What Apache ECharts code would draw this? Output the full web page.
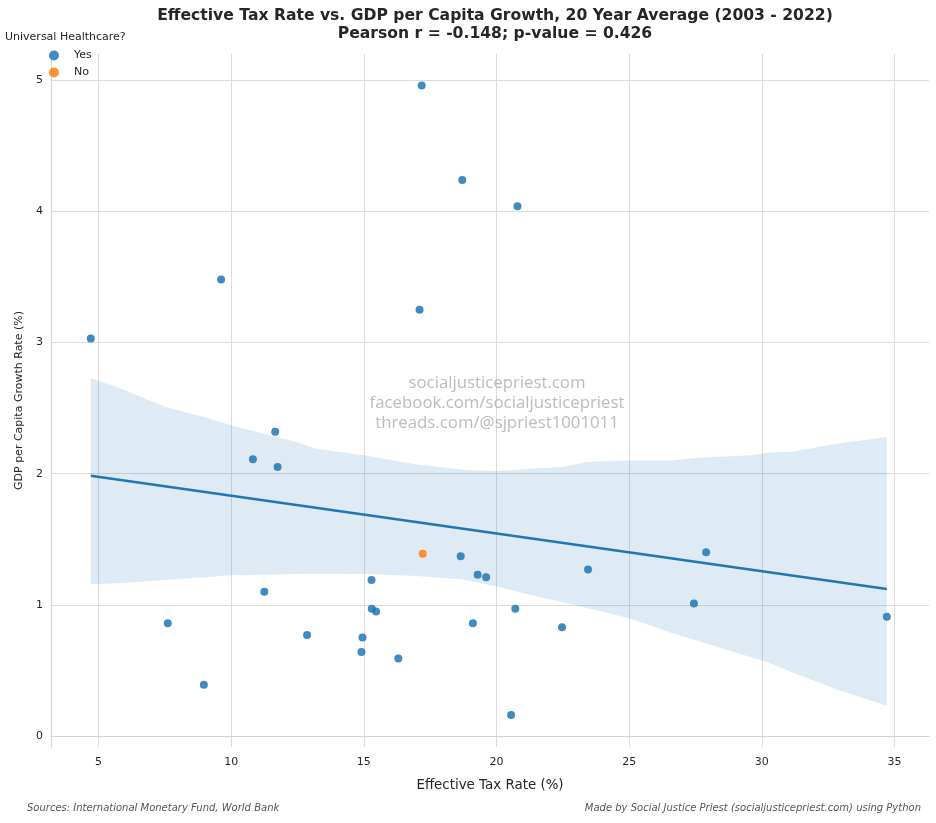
<!DOCTYPE html>
<html>
<head>
<meta charset="utf-8">
<script src="https://cdn.jsdelivr.net/npm/echarts@6/dist/echarts.min.js"></script>
<style>
html,body{margin:0;padding:0;background:#fff;}
#main{width:936px;height:823px;}
</style>
</head>
<body>
<div id="main"></div>
<script>
// data
var yesTax = [4.71, 9.62, 17.10, 18.71, 20.79, 11.66, 10.82, 11.75, 17.18, 18.65,
              19.29, 19.61, 15.29, 11.25, 15.30, 15.46, 20.71, 7.61, 19.11, 12.86,
              14.95, 14.91, 16.30, 8.97, 20.55, 23.45, 27.90, 27.44, 22.47, 34.71];
var yesGrowth = [3.03, 3.48, 3.25, 4.24, 4.04, 2.32, 2.11, 2.05, 4.96, 1.37,
                 1.23, 1.21, 1.19, 1.10, 0.97, 0.95, 0.97, 0.86, 0.86, 0.77,
                 0.75, 0.64, 0.59, 0.39, 0.16, 1.27, 1.40, 1.01, 0.83, 0.91];
var noTax = [17.22];
var noGrowth = [1.39];

// fitted line end points
var fitX = [4.71, 34.71];
var fitY = [1.984, 1.12];

// confidence band edges
var bandX =     [4.71, 5.7, 7.5, 9, 10, 12.5, 13.2, 15, 17, 18.7, 20, 21.4, 22.5, 23.4, 25, 26.6, 27.5, 29.6, 30.2, 31.2, 32.9, 34.71];
var bandUpper = [2.73, 2.66, 2.51, 2.43, 2.37, 2.24, 2.19, 2.14, 2.07, 2.03, 2.02, 2.04, 2.05, 2.09, 2.10, 2.10, 2.12, 2.14, 2.16, 2.17, 2.23, 2.28];
var bandLower = [1.156, 1.165, 1.19, 1.21, 1.225, 1.236, 1.237, 1.235, 1.22, 1.195, 1.14, 1.07, 1.02, 0.975, 0.897, 0.785, 0.73, 0.60, 0.565, 0.48, 0.35, 0.231];

var xTicks = [5, 10, 15, 20, 25, 30, 35];
var yTicks = [0, 1, 2, 3, 4, 5];

function pairs(a, b){
    var out = [];
    for(var i=0;i<a.length;i++){ out.push([a[i], b[i]]); }
    return out;
}

var chart = echarts.init(document.getElementById('main'));
var font = 'DejaVu Sans';

var option = {
    backgroundColor: '#fff',
    animation: false,
    textStyle: {fontFamily: font},
    title: [{
        text: 'Effective Tax Rate vs. GDP per Capita Growth, 20 Year Average (2003 - 2022)\nPearson r = -0.148; p-value = 0.426',
        left: 490, top: 2, textAlign: 'center',
        textStyle: {fontFamily: font, fontSize: 15.6, fontWeight: 'bold', color: '#262626', lineHeight: 18}
    }],
    legend: {
        orient: 'vertical',
        left: 44, top: 45,
        itemWidth: 10, itemHeight: 10, itemGap: 6,
        icon: 'circle',
        textStyle: {fontFamily: font, fontSize: 11, color: '#262626', padding: [0, 0, 0, 10]},
        data: ['Yes', 'No']
    },
    grid: {left: 51, right: 7, top: 54, bottom: 76},
    xAxis: {
        type: 'value', min: 3.21, max: 36.3,
        name: 'Effective Tax Rate (%)', nameLocation: 'middle', nameGap: 32,
        nameTextStyle: {fontFamily: font, fontSize: 13.4, color: '#262626'},
        axisLine: {show: true, lineStyle: {color: '#d5d5d5', width: 1.2}},
        axisTick: {show: false},
        axisLabel: {
            fontFamily: font, fontSize: 11, color: '#262626', margin: 10,
            showMinLabel: false, showMaxLabel: false,
            formatter: function(v){ return xTicks.indexOf(v) >= 0 ? String(v) : ''; }
        },
        splitLine: {show: true, showMinLine: false, showMaxLine: false, lineStyle: {color: '#dcdcdc', width: 1}}
    },
    yAxis: {
        type: 'value', min: -0.084, max: 5.2,
        name: 'GDP per Capita Growth Rate (%)', nameLocation: 'middle', nameGap: 20,
        nameTextStyle: {fontFamily: font, fontSize: 11, color: '#262626'},
        axisLine: {show: true, lineStyle: {color: '#d5d5d5', width: 1.2}},
        axisTick: {show: false},
        axisLabel: {
            fontFamily: font, fontSize: 11, color: '#262626', margin: 8,
            showMinLabel: false, showMaxLabel: false,
            formatter: function(v){ return yTicks.indexOf(v) >= 0 ? String(v) : ''; }
        },
        splitLine: {show: true, showMinLine: false, showMaxLine: false, lineStyle: {color: '#dcdcdc', width: 1}}
    },
    graphic: [
        {type: 'text', left: 27, top: 803, style: {text: 'Sources: International Monetary Fund, World Bank', fontFamily: font, fontSize: 10, fontStyle: 'italic', fill: '#555'}},
        {type: 'text', right: 15, top: 803, style: {text: 'Made by Social Justice Priest (socialjusticepriest.com) using Python', fontFamily: font, fontSize: 10, fontStyle: 'italic', fill: '#555'}},
        {type: 'text', left: 5, top: 32, style: {text: 'Universal Healthcare?', fontFamily: font, fontSize: 11, fill: '#262626'}},
        {type: 'text', x: 497, y: 373, z: 10, style: {
            text: 'socialjusticepriest.com\nfacebook.com/socialjusticepriest\nthreads.com/@sjpriest1001011',
            align: 'center', verticalAlign: 'top', fontFamily: 'Open Sans', fontSize: 16.8, lineHeight: 20, fill: 'rgba(150,150,150,0.65)'}}
    ],
    series: [
        {
            name: 'band', type: 'custom', silent: true, z: 1,
            data: [[bandX[0], bandUpper[0]]],
            renderItem: function(params, api){
                var pts = [];
                for(var i=0;i<bandX.length;i++){ pts.push(api.coord([bandX[i], bandUpper[i]])); }
                for(var j=bandX.length-1;j>=0;j--){ pts.push(api.coord([bandX[j], bandLower[j]])); }
                return {type: 'polygon', shape: {points: pts}, style: {fill: 'rgba(31,119,180,0.15)'}};
            }
        },
        {
            name: 'fit', type: 'line', z: 3, symbol: 'none', silent: true,
            data: pairs(fitX, fitY),
            lineStyle: {color: '#1f77b4', width: 2.5}
        },
        {
            name: 'Yes', type: 'scatter', z: 4, symbolSize: 8,
            data: pairs(yesTax, yesGrowth),
            itemStyle: {color: '#1f77b4', opacity: 0.85}
        },
        {
            name: 'No', type: 'scatter', z: 4, symbolSize: 8,
            data: pairs(noTax, noGrowth),
            itemStyle: {color: '#ff7f0e', opacity: 0.85}
        }
    ]
};
chart.setOption(option);
</script>
</body>
</html>
